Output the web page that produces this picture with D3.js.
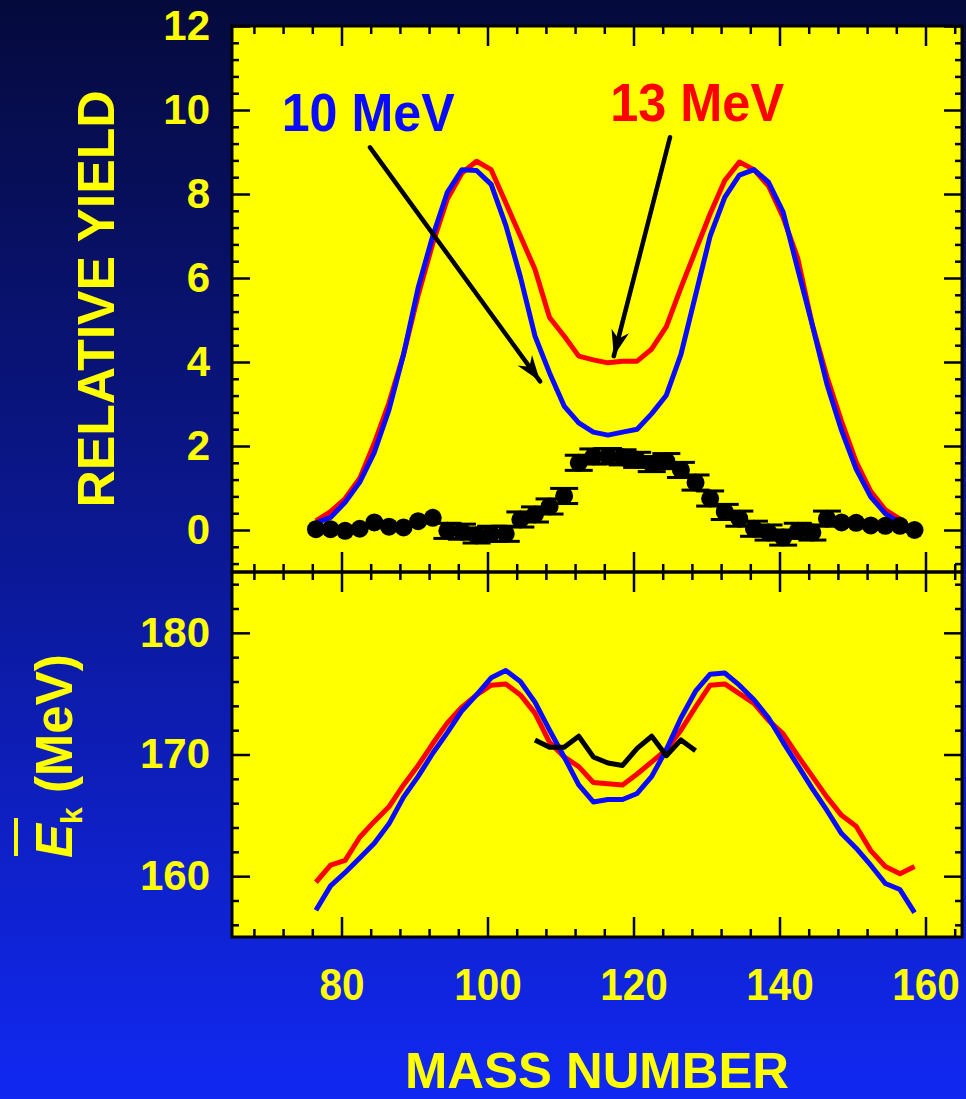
<!DOCTYPE html>
<html><head><meta charset="utf-8">
<script src="https://cdn.jsdelivr.net/npm/d3@7"></script>
<style>html,body{margin:0;padding:0;background:#0a1890;overflow:hidden}svg{display:block}</style>
</head><body>
<svg id="c" width="966" height="1099"></svg>
<script>
// ---------------- data ----------------
const mass = [76.5,78.5,80.5,82.5,84.5,86.5,88.5,90.5,92.5,94.5,96.5,98.5,100.5,102.5,104.5,106.5,108.5,110.5,112.5,114.5,116.5,118.5,120.5,122.5,124.5,126.5,128.5,130.5,132.5,134.5,136.5,138.5,140.5,142.5,144.5,146.5,148.5,150.5,152.5,154.5,156.5,158.5];
// relative yield, calculation 13 MeV (red) and 10 MeV (blue)
const yield13 = [0.22,0.44,0.75,1.23,2.07,3.03,4.18,5.59,6.82,7.88,8.50,8.78,8.58,7.79,7.00,6.21,5.06,4.62,4.14,4.05,3.98,4.02,4.02,4.31,4.84,5.77,6.65,7.53,8.32,8.76,8.58,8.19,7.44,6.47,4.88,3.65,2.59,1.62,0.92,0.48,0.26];
const yield10 = [0.17,0.30,0.66,1.14,1.85,2.86,4.18,5.77,7.00,8.04,8.58,8.56,8.23,7.26,6.03,4.62,3.74,2.95,2.55,2.33,2.26,2.33,2.40,2.77,3.21,4.18,5.59,7.00,7.92,8.45,8.58,8.28,7.57,6.21,4.88,3.47,2.37,1.45,0.79,0.39,0.17];
// experimental yield (black points) and errors
const yieldExp = [0.02,0.02,-0.02,0.03,0.18,0.08,0.06,0.21,0.29,-0.02,-0.04,-0.13,-0.09,-0.09,0.25,0.37,0.56,0.81,1.60,1.75,1.76,1.73,1.67,1.57,1.64,1.43,1.13,0.75,0.43,0.27,0.03,-0.06,-0.18,-0.02,-0.06,0.27,0.18,0.17,0.11,0.10,0.10,0.0];
const yieldErr = [0,0,0,0,0,0,0,0,0,0.18,0.18,0.18,0.18,0.18,0.18,0.18,0.18,0.18,0.18,0.18,0.18,0.18,0.18,0.18,0.18,0.18,0.18,0.18,0.18,0.18,0.18,0.18,0.18,0.18,0.18,0.18,0,0,0,0,0,0];
// mean kinetic energy
const ek13 = [159.5,160.9,161.3,163.2,164.5,165.7,167.5,169.1,170.9,172.6,173.9,174.9,175.7,175.8,174.9,173.4,171.0,169.8,169.0,167.7,167.6,167.5,168.4,169.4,170.4,172.0,173.9,175.7,175.8,175.0,174.2,172.8,171.7,169.9,168.2,166.5,165.0,164.1,162.1,160.8,160.2,160.8];
const ek10 = [157.2,159.2,160.3,161.5,162.7,164.3,166.5,168.2,170.1,171.8,173.6,174.9,176.3,176.9,176.0,174.3,172.0,169.8,167.5,166.1,166.3,166.3,166.8,168.2,170.4,173.0,175.2,176.6,176.7,175.7,174.5,173.0,171.0,169.1,167.2,165.4,163.5,162.3,160.9,159.4,158.9,157.0];
const ekExpMass = [106.5,108.5,110.5,112.5,114.5,116.5,118.5,120.5,122.5,124.5,126.5,128.5];
const ekExp = [171.2,170.6,170.6,171.5,169.8,169.3,169.1,170.5,171.5,169.9,171.2,170.3];
// ticks
const xMajor = [80,100,120,140,160];
const xMinor = [68,72,76,84,88,92,96,104,108,112,116,124,128,132,136,144,148,152,156,164];
const yTopMajor = [0,2,4,6,8,10,12];
const yTopMinor = [-0.8,-0.4,0.4,0.8,1.2,1.6,2.4,2.8,3.2,3.6,4.4,4.8,5.2,5.6,6.4,6.8,7.2,7.6,8.4,8.8,9.2,9.6,10.4,10.8,11.2,11.6];
const yBotMajor = [160,170,180];
const yBotMinor = [156,158,162,164,166,168,172,174,176,178,182,184];
// annotations (data coords: [mass, value])
const labels = [
  {text:"10 MeV", m:71.8, v:9.49, color:"#0a0aff", len:173},
  {text:"13 MeV", m:116.8, v:9.75, color:"#ff0000", len:174}
];
const arrows = [
  {from:[83.9,9.11], to:[107.2,3.54]},
  {from:[125.0,9.35], to:[117.3,4.14]}
];

// ---------------- drawing ----------------
const W=966,H=1099;
const FONT='"Liberation Sans", Arial, Helvetica, sans-serif';
const YEL='#ffff00';
const svg=d3.select('#c');
const defs=svg.append('defs');
const g=defs.append('linearGradient').attr('id','bg').attr('x1',0).attr('y1',0).attr('x2',0).attr('y2',1);
g.append('stop').attr('offset','0').attr('stop-color','#050a3c');
g.append('stop').attr('offset','0.5').attr('stop-color','#0b1894');
g.append('stop').attr('offset','1').attr('stop-color','#1128f2');
defs.append('marker').attr('id','ah').attr('viewBox','-26 -10 28 20')
  .attr('markerWidth',28).attr('markerHeight',20).attr('markerUnits','userSpaceOnUse')
  .attr('refX',0).attr('refY',0).attr('orient','auto')
  .append('path').attr('d','M-26,-9 L0,0 L-26,9 L-18,0 Z').attr('fill','#000');

svg.append('rect').attr('width',W).attr('height',H).attr('fill','url(#bg)');

const x=d3.scaleLinear().domain([65,165]).range([232,962]);
const yT=d3.scaleLinear().domain([-1,12]).range([572,26]);
const yB=d3.scaleLinear().domain([155,185]).range([937,572]);

// panels
svg.append('rect').attr('x',x(65)).attr('y',yT(12)).attr('width',x(165)-x(65)).attr('height',yT(-1)-yT(12)).attr('fill',YEL);
svg.append('rect').attr('x',x(65)).attr('y',yB(185)).attr('width',x(165)-x(65)).attr('height',yB(155)-yB(185)).attr('fill',YEL);

const axes=svg.append('g');
function addAxis(axis, tx, ty, labelsOn, fs){
  const a=axes.append('g').attr('transform',`translate(${tx},${ty})`).call(axis);
  a.select('.domain').remove();
  a.selectAll('line').attr('stroke','#000').attr('stroke-width',2.5);
  a.selectAll('text').attr('fill',YEL).style('font-family',FONT).style('font-weight','bold').style('font-size',(fs||42)+'px');
  if(!labelsOn) a.selectAll('text').remove();
  return a;
}
// top panel
addAxis(d3.axisLeft(yT).tickValues(yTopMajor).tickSize(-18).tickPadding(22).tickFormat(d3.format('d')), x(65),0,true);
addAxis(d3.axisLeft(yT).tickValues(yTopMinor).tickSize(-7).tickFormat(''), x(65),0,false);
addAxis(d3.axisRight(yT).tickValues(yTopMajor).tickSize(-18).tickFormat(''), x(165),0,false);
addAxis(d3.axisRight(yT).tickValues(yTopMinor).tickSize(-7).tickFormat(''), x(165),0,false);
addAxis(d3.axisTop(x).tickValues(xMajor).tickSize(-20).tickFormat(''), 0,yT(12),false);
addAxis(d3.axisTop(x).tickValues(xMinor).tickSize(-8).tickFormat(''), 0,yT(12),false);
// middle separator ticks (both sides)
addAxis(d3.axisTop(x).tickValues(xMajor).tickSize(20).tickFormat(''), 0,yT(-1),false);
addAxis(d3.axisBottom(x).tickValues(xMajor).tickSize(20).tickFormat(''), 0,yT(-1),false);
addAxis(d3.axisTop(x).tickValues(xMinor).tickSize(8).tickFormat(''), 0,yT(-1),false);
addAxis(d3.axisBottom(x).tickValues(xMinor).tickSize(8).tickFormat(''), 0,yT(-1),false);
// bottom panel
addAxis(d3.axisLeft(yB).tickValues(yBotMajor).tickSize(-18).tickPadding(22).tickFormat(d3.format('d')), x(65),0,true);
addAxis(d3.axisLeft(yB).tickValues(yBotMinor).tickSize(-7).tickFormat(''), x(65),0,false);
addAxis(d3.axisRight(yB).tickValues(yBotMajor).tickSize(-18).tickFormat(''), x(165),0,false);
addAxis(d3.axisRight(yB).tickValues(yBotMinor).tickSize(-7).tickFormat(''), x(165),0,false);
const xa=addAxis(d3.axisBottom(x).tickValues(xMajor).tickSize(-20).tickPadding(31).tickFormat(d3.format('d')), 0,yB(155),true,45);
xa.selectAll('text').attr('textLength',function(){return this.textContent.length*22.5;}).attr('lengthAdjust','spacingAndGlyphs');
addAxis(d3.axisBottom(x).tickValues(xMinor).tickSize(-8).tickFormat(''), 0,yB(155),false);

// frames
svg.append('rect').attr('x',x(65)).attr('y',yT(12)).attr('width',x(165)-x(65)).attr('height',yT(-1)-yT(12)).attr('fill','none').attr('stroke','#000').attr('stroke-width',3);
svg.append('rect').attr('x',x(65)).attr('y',yB(185)).attr('width',x(165)-x(65)).attr('height',yB(155)-yB(185)).attr('fill','none').attr('stroke','#000').attr('stroke-width',3);

// top panel curves
const lineT=d3.line().x(d=>x(d[0])).y(d=>yT(d[1]));
const lineB=d3.line().x(d=>x(d[0])).y(d=>yB(d[1]));
const plot=svg.append('g');
plot.append('path').attr('d',lineT(yield13.map((v,i)=>[mass[i],v]))).attr('fill','none').attr('stroke','#ff0000').attr('stroke-width',5).attr('stroke-linejoin','round');
plot.append('path').attr('d',lineT(yield10.map((v,i)=>[mass[i],v]))).attr('fill','none').attr('stroke','#0a0aff').attr('stroke-width',5).attr('stroke-linejoin','round');

// arrows
arrows.forEach(a=>{
  plot.append('line').attr('x1',x(a.from[0])).attr('y1',yT(a.from[1])).attr('x2',x(a.to[0])).attr('y2',yT(a.to[1]))
    .attr('stroke','#000').attr('stroke-width',4.5).attr('stroke-linecap','round').attr('marker-end','url(#ah)');
});

// experimental points with error bars
const pts=plot.append('g');
yieldExp.forEach((v,i)=>{
  const e=yieldErr[i]; const cx=x(mass[i]);
  if(e>0){
    pts.append('line').attr('x1',cx).attr('x2',cx).attr('y1',yT(v-e)).attr('y2',yT(v+e)).attr('stroke','#000').attr('stroke-width',3);
    [v-e,v+e].forEach(w=>pts.append('line').attr('x1',cx-14).attr('x2',cx+14).attr('y1',yT(w)).attr('y2',yT(w)).attr('stroke','#000').attr('stroke-width',3));
  }
});
pts.selectAll('circle').data(yieldExp).join('circle').attr('cx',(d,i)=>x(mass[i])).attr('cy',d=>yT(d)).attr('r',9).attr('fill','#000');

// labels
labels.forEach(l=>{
  svg.append('text').attr('x',x(l.m)).attr('y',yT(l.v)).text(l.text).attr('fill',l.color)
    .attr('textLength',l.len).attr('lengthAdjust','spacingAndGlyphs')
    .style('font-family',FONT).style('font-weight','bold').style('font-size','53px');
});

// bottom panel curves
plot.append('path').attr('d',lineB(ek13.map((v,i)=>[mass[i],v]))).attr('fill','none').attr('stroke','#ff0000').attr('stroke-width',5).attr('stroke-linejoin','round');
plot.append('path').attr('d',lineB(ek10.map((v,i)=>[mass[i],v]))).attr('fill','none').attr('stroke','#0a0aff').attr('stroke-width',5).attr('stroke-linejoin','round');
plot.append('path').attr('d',lineB(ekExp.map((v,i)=>[ekExpMass[i],v]))).attr('fill','none').attr('stroke','#000').attr('stroke-width',5).attr('stroke-linejoin','round');

// axis titles
svg.append('text').attr('transform','translate(114,299) rotate(-90)').attr('text-anchor','middle')
  .attr('textLength',417).attr('lengthAdjust','spacingAndGlyphs')
  .text('RELATIVE YIELD').attr('fill',YEL).style('font-family',FONT).style('font-weight','bold').style('font-size','52px');
const ek=svg.append('g').attr('transform','translate(72,858) rotate(-90)');
const t=ek.append('text').attr('fill',YEL).style('font-family',FONT).style('font-weight','bold').style('font-size','51px');
t.append('tspan').text('E').style('font-style','italic');
t.append('tspan').text('k').style('font-size','30px').attr('dy',10);
t.append('tspan').text(' (MeV)').attr('dy',-10);
ek.append('line').attr('x1',2).attr('x2',40).attr('y1',-56).attr('y2',-56).attr('stroke',YEL).attr('stroke-width',4);
svg.append('text').attr('x',(x(65)+x(165))/2).attr('y',1088).attr('text-anchor','middle').text('MASS NUMBER')
  .attr('textLength',384).attr('lengthAdjust','spacingAndGlyphs')
  .attr('fill',YEL).style('font-family',FONT).style('font-weight','bold').style('font-size','50px');
</script>
</body></html>
